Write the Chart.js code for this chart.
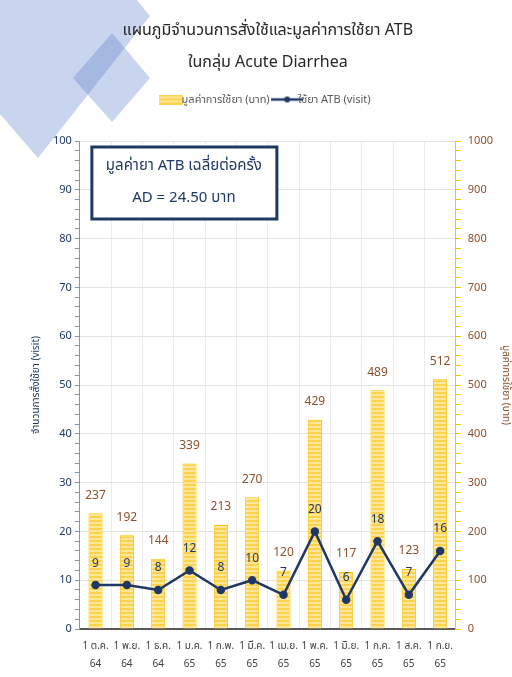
<!DOCTYPE html>
<html lang="th">
  <head>
    <meta charset="UTF-8" />
    <title>Acute Diarrhea ATB</title>
    <style>
      * { margin: 0; padding: 0; }
      body { background: #fff; }
      .wrap { width: 512px; height: 677px; position: relative; }
    </style>
  </head>
  <body>
    <div class="wrap">
      <canvas id="myChart"></canvas>
    </div>

    <script src="https://cdn.jsdelivr.net/npm/chart.js@4/dist/chart.umd.min.js"></script>
    <script>
      // Data
      const months = [
        ['1 ต.ค.', '64'], ['1 พ.ย.', '64'], ['1 ธ.ค.', '64'], ['1 ม.ค.', '65'],
        ['1 ก.พ.', '65'], ['1 มี.ค.', '65'], ['1 เม.ย.', '65'], ['1 พ.ค.', '65'],
        ['1 มิ.ย.', '65'], ['1 ก.ค.', '65'], ['1 ส.ค.', '65'], ['1 ก.ย.', '65']
      ]
      const costBaht = [237, 192, 144, 339, 213, 270, 120, 429, 117, 489, 123, 512]
      const visits = [9, 9, 8, 12, 8, 10, 7, 20, 6, 18, 7, 16]
      const titleLines = ['แผนภูมิจำนวนการสั่งใช้และมูลค่าการใช้ยา ATB', 'ในกลุ่ม Acute Diarrhea']
      const noteLines = ['มูลค่ายา ATB เฉลี่ยต่อครั้ง', 'AD = 24.50 บาท']

      const NAVY = '#1f3864'
      const BROWN = '#8e4f2c'
      const GOLD = '#ffc000'
      const FONT = "'Noto Sans', 'Noto Sans Thai', Tahoma, sans-serif"

      Chart.defaults.font.family = FONT

      // striped yellow fill like the Excel bars
      function stripes() {
        const c = document.createElement('canvas')
        c.width = 4
        c.height = 4
        const g = c.getContext('2d')
        g.fillStyle = '#ffe79a'
        g.fillRect(0, 0, 4, 4)
        g.fillStyle = '#ffd24d'
        g.fillRect(0, 0, 4, 2)
        return g.createPattern(c, 'repeat')
      }
      const barFill = stripes()

      function legendIcon(kind) {
        const c = document.createElement('canvas')
        c.width = kind === 'bar' ? 24 : 32
        c.height = 10
        const g = c.getContext('2d')
        if (kind === 'bar') {
          g.fillStyle = barFill
          g.fillRect(0, 0, 24, 10)
        } else {
          g.strokeStyle = NAVY
          g.lineWidth = 2.5
          g.beginPath()
          g.moveTo(0, 5)
          g.lineTo(32, 5)
          g.stroke()
          g.fillStyle = NAVY
          g.beginPath()
          g.arc(16, 5, 3, 0, Math.PI * 2)
          g.fill()
        }
        return c
      }

      // background diamonds at the top-left corner
      const decor = {
        id: 'decor',
        beforeDraw(chart) {
          const g = chart.ctx
          g.save()
          g.fillStyle = 'rgba(75, 115, 198, 0.3)'
          g.beginPath()
          g.moveTo(0, 0)
          g.lineTo(137, 0)
          g.lineTo(150, 16)
          g.lineTo(38, 158)
          g.lineTo(0, 114)
          g.closePath()
          g.fill()
          g.beginPath()
          g.moveTo(112, 33)
          g.lineTo(150, 78)
          g.lineTo(112, 122)
          g.lineTo(73, 78)
          g.closePath()
          g.fill()
          g.restore()
        }
      }

      // extra room under the legend
      const legendGap = {
        id: 'legendGap',
        beforeInit(chart) {
          const fit = chart.legend.fit
          chart.legend.fit = function () {
            fit.bind(chart.legend)()
            this.height += 26
          }
        }
      }

      // value labels and the average note box
      const labels = {
        id: 'labels',
        afterDatasetsDraw(chart) {
          const g = chart.ctx
          const area = chart.chartArea
          g.save()
          g.textAlign = 'center'
          g.textBaseline = 'middle'
          g.font = '12px ' + FONT
          chart.getDatasetMeta(0).data.forEach((bar, i) => {
            g.fillStyle = BROWN
            g.fillText(costBaht[i], bar.x, bar.y - 18)
          })
          chart.getDatasetMeta(1).data.forEach((pt, i) => {
            g.fillStyle = NAVY
            g.fillText(visits[i], pt.x, pt.y - 22)
          })

          const bx = area.left + 12
          const by = area.top + 6
          g.fillStyle = '#fff'
          g.fillRect(bx, by, 185, 72)
          g.strokeStyle = NAVY
          g.lineWidth = 3
          g.strokeRect(bx, by, 185, 72)
          g.fillStyle = NAVY
          g.font = '15px ' + FONT
          g.fillText(noteLines[0], bx + 92, by + 19)
          g.fillText(noteLines[1], bx + 92, by + 51)
          g.restore()
        }
      }

      const ctx = document.getElementById('myChart')

      const data = {
        labels: months,
        datasets: [
          {
            type: 'bar',
            label: 'มูลค่าการใช้ยา (บาท)',
            data: costBaht,
            yAxisID: 'y1',
            backgroundColor: barFill,
            borderColor: GOLD,
            borderWidth: 1,
            barPercentage: 0.45,
            categoryPercentage: 1,
            order: 2
          },
          {
            type: 'line',
            label: 'ใช้ยา ATB (visit)',
            data: visits,
            yAxisID: 'y',
            borderColor: NAVY,
            backgroundColor: NAVY,
            borderWidth: 2.5,
            pointRadius: 3,
            pointBackgroundColor: NAVY,
            tension: 0,
            order: 1
          }
        ]
      }

      const options = {
        responsive: true,
        maintainAspectRatio: false,
        animation: false,
        layout: { padding: { top: 14, left: 30, right: -6, bottom: 2 } },
        plugins: {
          title: {
            display: true,
            fullSize: false,
            text: titleLines,
            color: '#262626',
            font: { size: 16, weight: 'normal', lineHeight: 2 },
            padding: { top: 0, bottom: 4 }
          },
          legend: {
            fullSize: false,
            labels: {
              usePointStyle: true,
              color: '#595959',
              font: { size: 11 },
              padding: 12,
              generateLabels: (chart) => [
                { text: data.datasets[0].label, pointStyle: legendIcon('bar'), datasetIndex: 0, fontColor: '#595959', lineWidth: 0 },
                { text: data.datasets[1].label, pointStyle: legendIcon('line'), datasetIndex: 1, fontColor: '#595959', lineWidth: 0 }
              ]
            }
          },
          tooltip: { enabled: false }
        },
        scales: {
          x: {
            grid: { color: '#ececec', tickColor: 'transparent', tickLength: 6, offset: true },
            border: { color: '#595959', width: 2 },
            ticks: { color: '#404040', font: { size: 10, lineHeight: 1.8 }, maxRotation: 0, autoSkip: false, padding: 2 }
          },
          y: {
            position: 'left',
            min: 0,
            max: 100,
            grid: {
              color: (c) => (c.tick.value % 10 === 0 ? '#e3e3e3' : 'transparent'),
              tickColor: '#8497b0',
              tickLength: 5
            },
            border: { color: '#8497b0' },
            ticks: {
              stepSize: 2,
              autoSkip: false,
              color: NAVY,
              font: { size: 11 },
              callback: (v) => (v % 10 === 0 ? v : '')
            },
            title: {
              display: true,
              text: 'จำนวนการสั่งใช้ยา (visit)',
              color: NAVY,
              font: { size: 10 },
              padding: { top: 0, bottom: 8 }
            }
          },
          y1: {
            position: 'right',
            min: 0,
            max: 1000,
            grid: { drawOnChartArea: false, tickColor: GOLD, tickLength: 5 },
            border: { color: GOLD },
            ticks: {
              stepSize: 20,
              autoSkip: false,
              color: BROWN,
              font: { size: 11 },
              padding: 7,
              callback: (v) => (v % 100 === 0 ? v : '')
            },
            title: {
              display: true,
              text: 'มูลค่าการใช้ยา (บาท)',
              color: BROWN,
              font: { size: 10 },
              padding: { top: 6, bottom: 0 }
            }
          }
        }
      }

      new Chart(ctx, { data, options, plugins: [decor, legendGap, labels] })
    </script>
  </body>
</html>
